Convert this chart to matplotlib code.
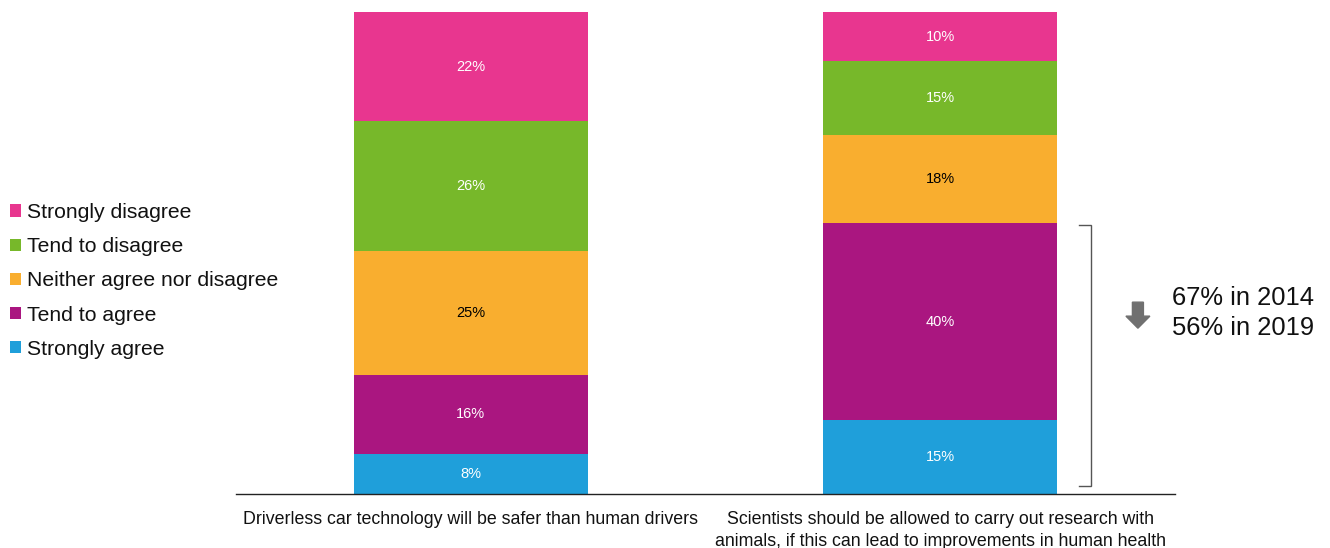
import matplotlib
matplotlib.use("Agg")
import matplotlib.pyplot as plt
from matplotlib.patches import Patch, FancyArrow
import numpy as np

plt.rcParams['font.family'] = ['Liberation Sans', 'DejaVu Sans']

categories = ["Driverless car technology will be safer than human drivers",
              "Scientists should be allowed to carry out research with\nanimals, if this can lead to improvements in human health"]
series = ["Strongly agree", "Tend to agree", "Neither agree nor disagree",
          "Tend to disagree", "Strongly disagree"]
strongly_agree = [8, 15]
tend_agree = [16, 40]
neither = [25, 18]
tend_disagree = [26, 15]
strongly_disagree = [22, 10]
colors = ["#1F9FDA", "#AA1680", "#F9AE2F", "#77B82A", "#E8368F"]
label_colors = ["white", "white", "black", "white", "white"]
note_lines = ["67% in 2014", "56% in 2019"]

values = np.array([strongly_agree, tend_agree, neither, tend_disagree, strongly_disagree], dtype=float)
totals = values.sum(axis=0)
norm = values / totals * 100

W, H = 1330, 548
fig = plt.figure(figsize=(W / 100, H / 100), dpi=100)
ax = fig.add_axes([236 / W, (H - 494) / H, (1175 - 236) / W, (494 - 12) / H])

x = np.arange(len(categories))
bottom = np.zeros(len(categories))
handles = []
for i, name in enumerate(series):
    ax.bar(x, norm[i], bottom=bottom, width=0.498, color=colors[i], edgecolor='none')
    for j in range(len(categories)):
        ax.text(x[j], bottom[j] + norm[i][j] / 2, f"{int(values[i][j])}%",
                ha='center', va='center', fontsize=10.5, color=label_colors[i])
    bottom += norm[i]
    handles.append(Patch(facecolor=colors[i], edgecolor='none', label=name))

ax.set_xlim(-0.5, 1.5)
ax.set_ylim(0, 100)
for s in ['top', 'right', 'left']:
    ax.spines[s].set_visible(False)
ax.spines['bottom'].set_color('#222222')
ax.spines['bottom'].set_linewidth(1.0)
ax.set_yticks([])
ax.set_xticks(x)
ax.set_xticklabels(categories, fontsize=12.8, color='#111111', linespacing=1.38)
ax.tick_params(axis='x', length=0, pad=12)

# bracket around agree segments of second bar
top_b = norm[0][1] + norm[1][1] - 0.3
bx, tx = 1.321, 1.296
ax.plot([tx, bx, bx, tx], [top_b, top_b, 1.7, 1.7], color='#555555', lw=1.0,
        clip_on=False, solid_joinstyle='miter')

# arrow
arr = FancyArrow(1.421, 39.8, 0, -5.4, width=0.0234, head_width=0.051,
                 head_length=2.5, length_includes_head=True, color='#707070',
                 transform=ax.transData, clip_on=False)
ax.add_patch(arr)

fig.text(1172 / W, 1 - 313 / H, "\n".join(note_lines), ha='left', va='center',
         fontsize=18.4, color='#111111', linespacing=1.32)

leg = fig.legend(handles=handles[::-1], loc='upper left', bbox_to_anchor=(10 / W, 1 - 203 / H),
                 frameon=False, fontsize=15.2, handlelength=0.5, handleheight=0.5,
                 handletextpad=0.3, labelspacing=0.72, borderpad=0, borderaxespad=0)
for t in leg.get_texts():
    t.set_color('#111111')

fig.savefig("out.png", dpi=100)
